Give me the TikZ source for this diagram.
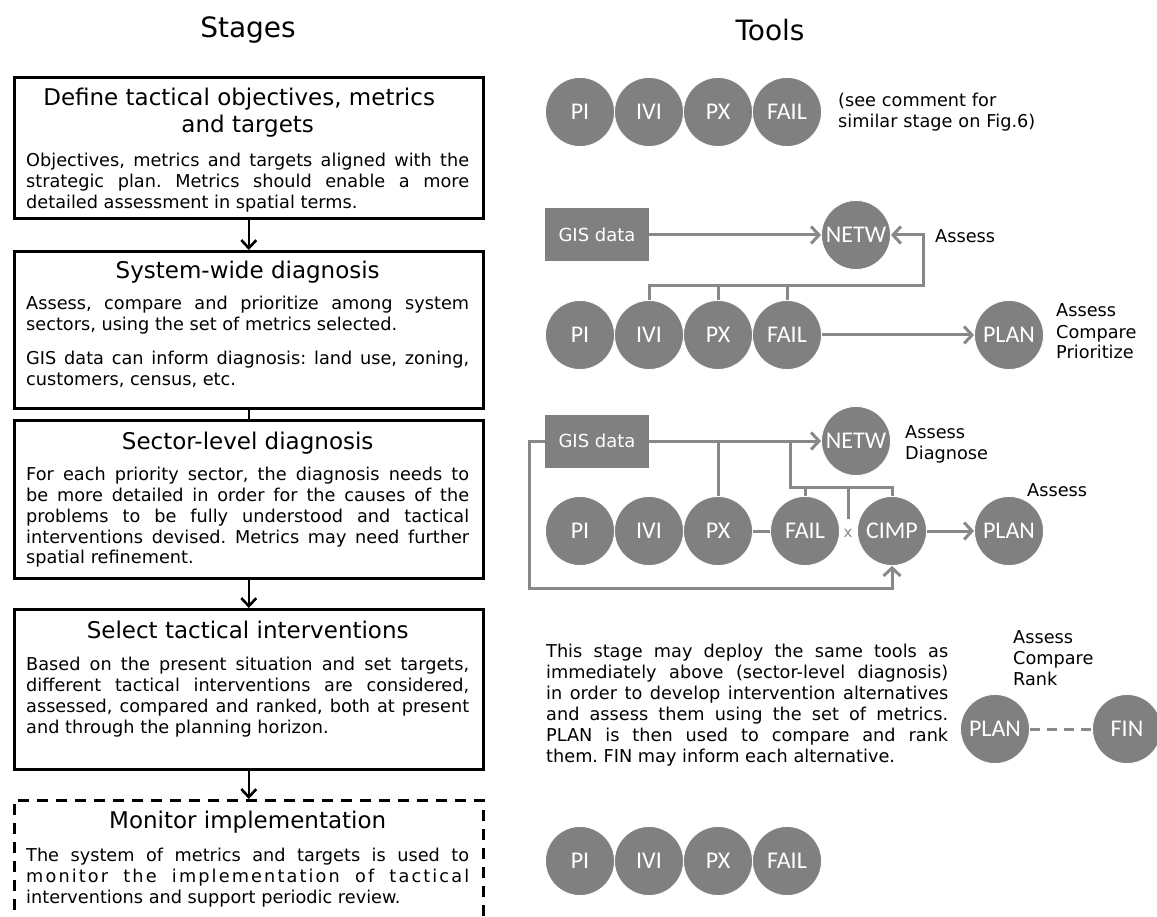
\documentclass[tikz,border=0pt]{standalone}
\usepackage{fontspec}
\setmainfont{DejaVu Sans}
\newfontfamily\calib{Carlito}
\usetikzlibrary{arrows.meta}
\definecolor{cgray}{RGB}{128,128,128}
\definecolor{lgray}{RGB}{136,136,136}
\newcommand\stghead{\fontsize{23}{27}\selectfont}
\frenchspacing
\hyphenpenalty=10000
\exhyphenpenalty=10000
\tikzset{
  stagebox/.style={draw=black, line width=2.6pt, minimum width=469pt, anchor=north west, inner sep=0pt},
  stagetext/.style={anchor=base west, inner sep=0pt, text width=443pt, align=justify, font=\fontsize{17.7}{21}\selectfont},
  tool/.style={circle, fill=cgray, draw=white, line width=0.8pt, minimum size=69pt, inner sep=0pt, text=white, font=\calib\fontsize{24}{24}\selectfont},
  gisbox/.style={fill=cgray, minimum width=104pt, minimum height=53pt, inner sep=0pt, text=white, font=\fontsize{18}{18}\selectfont},
  conn/.style={draw=lgray, line width=3pt},
  carrow/.style={conn, -{Straight Barb[length=8pt,width=17pt]}},
  barrow/.style={draw=black, line width=2.6pt, -{Straight Barb[length=8pt,width=15pt]}},
  lbl/.style={anchor=base west, inner sep=0pt, text width=250pt, align=left, font=\fontsize{17.7}{21}\selectfont},
  title/.style={font=\fontsize{28}{30}\selectfont, inner sep=0pt}
}
\begin{document}
\begin{tikzpicture}[x=1pt,y=-1pt]
\useasboundingbox (0,0) rectangle (1157,917);
\clip (0,0) rectangle (1157,917);
% titles
\node[title] (hs) at (248,30) {Stages};
\node[title] (ht) at (770,30) {Tools};
% stage boxes
\node[stagebox, minimum height=141pt] (b1) at (13,76) {};
\node[stagebox, minimum height=157pt] (b2) at (13,250) {};
\node[stagebox, minimum height=158pt] (b3) at (13,419) {};
\node[stagebox, minimum height=160pt] (b4) at (13,608) {};
\node[stagebox, minimum height=160pt, dash pattern=on 11pt off 8pt] (b5) at (13,799) {};
\draw[barrow] (b1.south) -- (b2.north);
\draw[draw=black, line width=2.6pt] (b2.south) -- (b3.north);
\draw[barrow] (b3.south) -- (b4.north);
\draw[barrow] (b4.south) -- (b5.north);
% stage texts
\node[stagetext] (t1) at (26,106) {{\centering\stghead Define tactical objectives, metrics\newline and targets\par}\vspace{13pt}Objectives, metrics and targets aligned with the\linebreak strategic plan. Metrics should enable a more\linebreak detailed assessment in spatial terms.};
\node[stagetext] (t2) at (26,279) {{\centering\stghead System-wide diagnosis\par}\vspace{10pt}Assess, compare and prioritize among system\linebreak sectors, using the set of metrics selected.\par\vspace{13pt}GIS data can inform diagnosis: land use, zoning,\linebreak customers, census, etc.};
\node[stagetext] (t3) at (26,449) {{\centering\stghead Sector-level diagnosis\par}\vspace{10pt}For each priority sector, the diagnosis needs to\linebreak be more detailed in order for the causes of the\linebreak problems to be fully understood and tactical\linebreak interventions devised. Metrics may need further\linebreak spatial refinement.};
\node[stagetext] (t4) at (26,638) {{\centering\stghead Select tactical interventions\par}\vspace{11pt}Based on the present situation and set targets,\linebreak different tactical interventions are considered,\linebreak assessed, compared and ranked, both at present\linebreak and through the planning horizon.};
\node[stagetext] (t5) at (26,828) {{\centering\stghead Monitor implementation\par}\vspace{12pt}The system of metrics and targets is used to\linebreak \makebox[\linewidth][s]{\addfontfeature{LetterSpace=12}monitor the implementation of tactical}\linebreak interventions and support periodic review.};
% row 1
\node[tool] (pi1) at (580,112) {PI};
\node[tool] (ivi1) at (649,112) {IVI};
\node[tool] (px1) at (718,112) {PX};
\node[tool] (fail1) at (787,112) {FAIL};
\node[lbl] (c1) at (838,107) {(see comment for\\similar stage on Fig.6)};
% row 2
\node[gisbox] (g2) at (597,235) {GIS data};
\node[tool] (n2) at (856,235) {NETW};
\node[tool] (pi2) at (580,335) {PI};
\node[tool] (ivi2) at (649,335) {IVI};
\node[tool] (px2) at (718,335) {PX};
\node[tool] (fail2) at (787,335) {FAIL};
\node[tool] (plan2) at (1009,335) {PLAN};
\coordinate (l2a) at (923,286);
\draw[carrow] (g2) -- (n2);
\draw[carrow] (ivi2.north) |- (l2a) |- (n2.east);
\draw[conn] (px2.north) -- (px2.north |- l2a);
\draw[conn] (fail2.north) -- (fail2.north |- l2a);
\draw[carrow] (fail2) -- (plan2);
\node[lbl] (a2) at (935,243) {Assess};
\node[lbl] (a2b) at (1056,317) {Assess\\Compare\\Prioritize};
% row 3
\node[gisbox] (g3) at (597,441) {GIS data};
\node[tool] (n3) at (856,441) {NETW};
\node[tool] (pi3) at (580,531) {PI};
\node[tool] (ivi3) at (649,531) {IVI};
\node[tool] (px3) at (718,531) {PX};
\node[tool] (fail3) at (805,531) {FAIL};
\node[tool] (cimp3) at (892,531) {CIMP};
\node[tool] (plan3) at (1009,531) {PLAN};
\coordinate (c3l) at (529,441);
\coordinate (c3b) at (529,588);
\coordinate (c3t) at (790,441);
\coordinate (c3m) at (790,487);
\coordinate (c3x) at (848,519);
\draw[carrow] (g3) -- (n3);
\draw[carrow] (g3.west) -- (c3l) -- (c3b) -| (cimp3.south);
\draw[conn] (px3.north) -- (px3.north |- c3t);
\draw[conn] (c3t) -- (c3m) -| (cimp3.north);
\draw[conn] (fail3.north) -- (fail3.north |- c3m);
\draw[conn] (c3x) -- (c3x |- c3m);
\node[text=lgray, font=\fontsize{15}{15}\selectfont, inner sep=0pt] (x3) at (848,533) {x};
\draw[conn] (px3) -- (fail3);
\draw[carrow] (cimp3) -- (plan3);
\node[lbl] (a3) at (905,438) {Assess\\Diagnose};
\node[lbl] (a3b) at (1027,496) {Assess};
% row 4
\node[lbl, text width=402pt, align=justify] (p4) at (546,657) {This stage may deploy the same tools as\linebreak immediately above (sector-level diagnosis)\linebreak in order to develop intervention alternatives\linebreak and assess them using the set of metrics.\linebreak PLAN is then used to compare and rank\linebreak them. FIN may inform each alternative.};
\node[tool] (plan4) at (995,729) {PLAN};
\node[tool] (fin4) at (1127,729) {FIN};
\draw[conn, dash pattern=on 10pt off 7pt] (plan4) -- (fin4);
\node[lbl] (a4) at (1013,643) {Assess\\Compare\\Rank};
% row 5
\node[tool] (pi5) at (580,861) {PI};
\node[tool] (ivi5) at (649,861) {IVI};
\node[tool] (px5) at (718,861) {PX};
\node[tool] (fail5) at (787,861) {FAIL};
\end{tikzpicture}
\end{document}
